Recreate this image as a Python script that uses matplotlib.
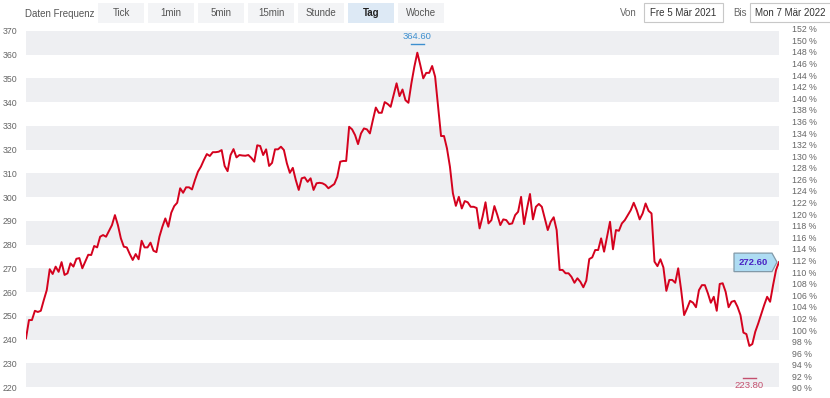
import matplotlib.pyplot as plt
from matplotlib.patches import Rectangle, Polygon
import numpy as np

# daily closes, 5 Mar 2021 - 7 Mar 2022
closes = [
    240.5, 248.2, 248.2, 252.1, 251.6, 252.1, 256.6, 260.8, 269.6, 267.6,
    270.7, 268.5, 272.6, 267.2, 267.9, 272.1, 270.7, 274.0, 274.3, 270.0,
    272.8, 275.7, 275.6, 279.4, 278.8, 283.3, 284.0, 283.3, 285.8, 288.2,
    292.4, 288.2, 282.6, 279.1, 278.8, 276.0, 273.5, 276.0, 273.8, 281.6,
    278.8, 278.8, 280.8, 277.4, 276.8, 283.3, 287.5, 291.0, 287.5, 293.4,
    296.2, 297.6, 303.7, 301.8, 304.1, 304.1, 303.2, 307.2, 310.7, 312.8,
    315.6,
    318.1, 317.3, 318.9, 318.9, 319.1, 319.8, 313.1, 310.9, 317.7, 320.2,
    316.7, 317.7, 317.5, 317.4, 317.7, 316.5, 314.9, 321.8, 321.5, 317.7,
    320.1, 313.1, 314.4, 320.1, 320.1, 321.2, 319.8, 314.2, 310.2, 312.3,
    307.2, 303.0, 307.9, 308.3, 306.4, 307.9, 303.0, 305.8, 306.0, 305.8,
    305.1, 303.7, 304.6, 305.5, 308.5, 314.9, 315.2, 315.2, 329.6, 328.5,
    326.1, 322.3, 326.8, 328.9, 328.5, 326.8, 332.4, 337.7, 335.5, 335.5,
    340.0, 339.2, 338.0, 342.9, 347.9, 342.5, 345.3,
    340.8, 339.7, 347.9, 354.9, 360.8, 355.6, 350.0, 352.3, 352.3, 355.2,
    350.7, 338.0, 325.7, 325.7, 320.5, 312.8, 301.6, 296.3, 300.1, 295.2,
    298.3, 297.8, 295.9, 295.9, 295.4, 286.8, 291.7, 297.8, 288.9, 290.3,
    296.2, 292.4, 288.2, 290.6, 290.3, 288.6, 288.9, 292.4, 293.8, 300.1,
    288.6, 295.2, 301.3, 290.6, 295.9, 297.1, 295.9, 291.0, 286.1, 289.6,
    291.5, 286.1, 269.3, 269.3, 267.9, 267.9, 266.4, 263.9, 265.8, 264.3,
    262.0,
    264.8, 273.9, 274.6, 277.7, 277.7, 282.6, 277.0, 283.3, 289.6, 278.0,
    286.1, 285.8, 288.9, 290.3, 292.4, 294.5, 297.6, 294.5, 290.6, 293.1,
    297.3, 294.2, 293.1, 272.8, 270.9, 273.8, 270.4, 260.5, 265.1, 265.1,
    263.9, 270.0, 260.8, 250.3, 253.1, 256.3, 255.5, 253.6, 260.8, 262.9,
    262.9, 259.5, 255.5, 258.0, 252.1, 263.4, 263.7, 260.1, 253.6, 255.9,
    256.3, 253.8, 250.3, 242.9, 242.3, 237.3, 238.1, 243.3, 246.8, 250.7,
    254.5, 258.0, 255.9, 262.9, 269.3, 272.6,
]
period_high = 364.60
period_low = 223.80
last_close = 272.60
base_price = 244.0  # 100 % on the right axis

freq_buttons = ["Tick", "1min", "5min", "15min", "Stunde", "Tag", "Woche"]
active_button = "Tag"
date_from = "Fre 5 Mär 2021"
date_to = "Mon 7 Mär 2022"

FONT = "Liberation Sans"
plt.rcParams["font.family"] = [FONT, "DejaVu Sans"]

W, H = 830, 398
fig = plt.figure(figsize=(W / 100, H / 100), dpi=100)

# plot area in pixels
x0, x1, y0, y1 = 26, 779, 28, 392
ax = fig.add_axes([x0 / W, (H - y1) / H, (x1 - x0) / W, (y1 - y0) / H])
ymin, ymax = 217.9, 371.2
ax.set_ylim(ymin, ymax)
n = len(closes)
ax.set_xlim(0, n - 1)

for lo in range(220, 370, 20):
    ax.axhspan(lo, lo + 10, color="#eeeff2", lw=0, zorder=0)

x = np.arange(n)
ax.plot(x, closes, color="#d4021e", lw=1.4, zorder=3)

for s in ax.spines.values():
    s.set_visible(False)
ax.set_xticks([])
ax.set_yticks(range(220, 371, 10))
ax.tick_params(axis="y", length=0, pad=16.6, labelsize=6.3, labelcolor="#666666")
for lab in ax.get_yticklabels():
    lab.set_ha("left")

ax2 = ax.twinx()
ax2.set_ylim(ymin / base_price * 100, ymax / base_price * 100)
pct = list(range(90, 153, 2))
ax2.set_yticks(pct)
ax2.set_yticklabels([f"{p} %" for p in pct])
ax2.tick_params(axis="y", length=0, pad=9.4, labelsize=6.3, labelcolor="#666666")
for s in ax2.spines.values():
    s.set_visible(False)

# high / low markers
i_hi = int(np.argmax(closes))
i_lo = int(np.argmin(closes))
ax.plot([i_hi - 2.2, i_hi + 2.2], [period_high, period_high], color="#3d8fcf", lw=1)
ax.annotate(f"{period_high:.2f}", xy=(i_hi, period_high), xytext=(0, 2),
            textcoords="offset points", ha="center", va="bottom",
            fontsize=6.8, color="#3d8fcf")
ax.plot([i_lo - 2.2, i_lo + 2.2], [period_low, period_low], color="#c4506e", lw=1)
ax.annotate(f"{period_low:.2f}", xy=(i_lo, period_low), xytext=(0, -2),
            textcoords="offset points", ha="center", va="top",
            fontsize=6.8, color="#c4506e")

# toolbar / overlay in pixel coordinates (y downwards)
top = fig.add_axes([0, 0, 1, 1], zorder=10)
top.set_xlim(0, W)
top.set_ylim(H, 0)
top.axis("off")
top.patch.set_visible(False)

# last value tag, anchored on the last point of the line
px, py = ax.transData.transform((n - 1, last_close))
py = H - py
tip = px - 2
right = tip - 5
left = right - 38
tag = Polygon([(left, py - 9), (right, py - 9), (tip, py), (right, py + 9.5),
               (left, py + 9.5)], closed=True, fc="#aedcf3", ec="#8299a8", lw=0.9)
top.add_patch(tag)
top.text((left + right) / 2, py + 0.5, f"{last_close:.2f}", fontsize=6.8,
         color="#4a22c4", weight="bold", ha="center", va="center")

top.text(25, 14, "Daten Frequenz", fontsize=7, color="#555555", va="center", ha="left")
bx = 98
for name in freq_buttons:
    active = name == active_button
    top.add_patch(Rectangle((bx, 3), 46, 20,
                            fc="#dde9f5" if active else "#f3f4f6", ec="none"))
    top.text(bx + 23, 13.5, name, fontsize=7, ha="center", va="center",
             color="#222222" if active else "#555555",
             weight="bold" if active else "normal")
    bx += 50

top.text(620, 13, "Von", fontsize=7, color="#666666", va="center")
top.add_patch(Rectangle((644, 3), 79, 19, fc="white", ec="#c8c8c8", lw=0.8))
top.text(650, 13, date_from, fontsize=7, color="#333333", va="center")
top.text(733, 13, "Bis", fontsize=7, color="#666666", va="center")
top.add_patch(Rectangle((750, 3), 82, 19, fc="white", ec="#c8c8c8", lw=0.8))
top.text(755, 13, date_to, fontsize=7, color="#333333", va="center")

fig.savefig("out.png", dpi=100)
